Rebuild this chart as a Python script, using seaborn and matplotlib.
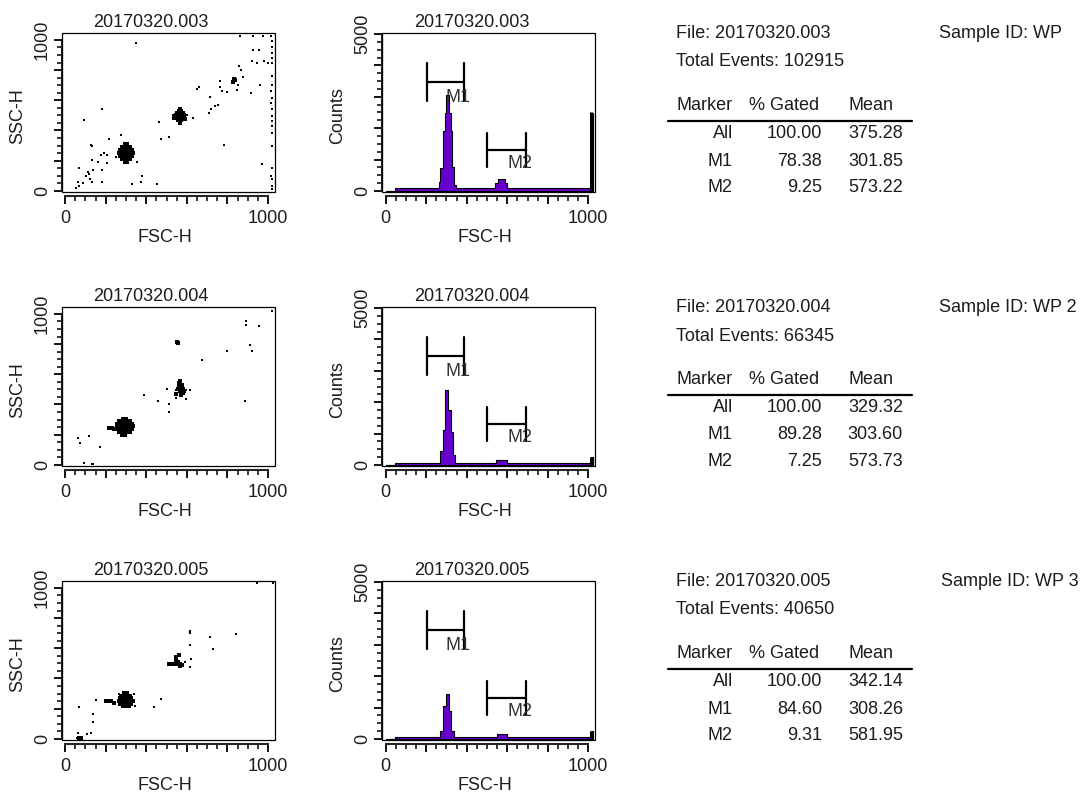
import matplotlib
matplotlib.use("Agg")
import matplotlib.pyplot as plt
from matplotlib.patches import Rectangle
from matplotlib.lines import Line2D
import pandas as pd
import seaborn as sns

# ---------------- data ----------------
FILES = ["20170320.003", "20170320.004", "20170320.005"]
SAMPLE_IDS = ["WP", "WP 2", "WP 3"]
TOTAL_EVENTS = [102915, 66345, 40650]
MARKER_NAMES = ["All", "M1", "M2"]
GATED_003 = [100.00, 78.38, 9.25]
MEAN_003 = [375.28, 301.85, 573.22]
GATED_004 = [100.00, 89.28, 7.25]
MEAN_004 = [329.32, 303.60, 573.73]
GATED_005 = [100.00, 84.60, 9.31]
MEAN_005 = [342.14, 308.26, 581.95]

M1_RANGE = [204, 386]
M2_RANGE = [499, 692]

# histogram (FSC-H channel bins, counts)
EDGES_003 = [0, 46, 262, 270, 282, 293, 300, 314, 320, 328, 337, 346, 540, 552, 588, 600, 1012, 1023]
COUNTS_003 = [0, 100, 300, 740, 1900, 2500, 3060, 2500, 1900, 750, 200, 100, 250, 380, 250, 100, 2500]
EDGES_004 = [0, 46, 268, 281, 292, 309, 320, 333, 342, 545, 600, 1015, 1023]
COUNTS_004 = [0, 80, 460, 1100, 2400, 1760, 1040, 330, 80, 160, 80, 250]
EDGES_005 = [0, 46, 270, 283, 296, 312, 323, 335, 548, 600, 1015, 1023]
COUNTS_005 = [0, 70, 250, 1060, 1440, 900, 250, 70, 150, 70, 250]

# scatter (FSC-H, SSC-H): dense populations and sparse events
CORE_003 = [(293, 194), (307, 194),
            (279, 212), (293, 212), (307, 212), (321, 212),
            (272, 232), (286, 232), (300, 232), (314, 232), (328, 232),
            (268, 252), (282, 252), (296, 252), (310, 252), (324, 252), (336, 252),
            (272, 272), (286, 272), (300, 272), (314, 272), (328, 272),
            (279, 292), (293, 292), (307, 292), (321, 292),
            (293, 310), (307, 310),
            (555, 470), (570, 470), (548, 485), (562, 485), (576, 485),
            (545, 500), (560, 500), (574, 500), (588, 500), (552, 515), (566, 515),
            (580, 515), (560, 530), (572, 530), (538, 480), (592, 478), (565, 545),
            (568, 452), (826, 724), (836, 736), (830, 742)]
DOTS_003 = [(348, 982), (184, 539), (94, 469), (217, 342), (278, 370), (127, 305),
            (135, 298), (176, 237), (209, 237), (193, 250), (250, 221), (70, 151),
            (135, 204), (160, 193), (206, 182), (184, 138), (114, 127), (140, 140),
            (103, 101), (124, 79), (119, 112), (135, 61), (62, 57), (86, 50),
            (70, 35), (54, 17), (184, 57), (332, 46), (372, 57), (454, 46),
            (381, 101), (356, 193), (310, 206), (474, 346), (511, 359), (462, 456),
            (631, 485), (650, 675), (660, 688), (712, 623), (707, 517), (720, 539),
            (740, 561), (752, 572), (761, 730), (765, 688), (773, 660), (800, 656),
            (846, 671), (851, 704), (859, 829), (866, 802), (876, 754), (915, 649),
            (923, 862), (928, 934), (957, 934), (944, 846), (961, 704), (781, 305),
            (969, 177), (980, 862), (998, 846), (1018, 846), (1013, 660), (1018, 616),
            (1013, 583), (1018, 495), (1018, 463), (1018, 386), (1013, 101), (1018, 79),
            (1018, 35), (863, 1026), (928, 1026), (977, 1026), (1013, 1026), (1018, 956),
            (1018, 912), (1020, 990), (1020, 880), (1020, 760), (1020, 700), (1020, 540),
            (1020, 430), (1020, 300), (1020, 150), (1020, 10), (530, 505), (600, 500)]

CORE_004 = [(280, 200), (296, 200),
            (266, 218), (280, 218), (294, 218), (308, 218), (322, 218),
            (258, 236), (272, 236), (286, 236), (300, 236), (314, 236), (328, 236),
            (254, 254), (268, 254), (282, 254), (296, 254), (310, 254), (324, 254), (336, 254),
            (258, 272), (272, 272), (286, 272), (300, 272), (314, 272), (328, 272),
            (266, 290), (280, 290), (294, 290), (308, 290), (322, 290),
            (285, 306), (300, 306), (215, 246), (230, 246), (243, 240),
            (560, 520), (572, 520), (556, 505), (568, 505), (580, 505), (564, 490),
            (576, 490), (560, 540), (566, 553), (548, 470), (572, 460), (575, 530),
            (551, 817), (554, 808)]
DOTS_004 = [(387, 465), (457, 424), (503, 505), (512, 406), (510, 351), (548, 443),
            (614, 494), (597, 439), (545, 495), (590, 480), (598, 495), (585, 470),
            (676, 696), (800, 753), (885, 424), (890, 955), (890, 929), (954, 918),
            (913, 795), (923, 753), (66, 175), (76, 142), (117, 191), (170, 121),
            (211, 246), (219, 237), (95, 11), (133, 2), (140, 2), (1020, 1020)]

CORE_005 = [(285, 215), (300, 215), (315, 215),
            (270, 232), (284, 232), (298, 232), (312, 232), (326, 232),
            (266, 250), (280, 250), (294, 250), (308, 250), (322, 250), (336, 250),
            (270, 268), (284, 268), (298, 268), (312, 268), (326, 268),
            (278, 286), (292, 286), (306, 286), (320, 286), (292, 302), (306, 302),
            (200, 250), (214, 250), (228, 250), (240, 235),
            (510, 497), (524, 497), (538, 497), (552, 497), (566, 497), (556, 512),
            (544, 525), (548, 540), (560, 555), (566, 480), (578, 490), (70, 4), (80, 6)]
DOTS_005 = [(614, 700), (614, 712), (614, 622), (622, 530), (614, 474), (716, 678),
            (729, 596), (841, 695), (943, 1033), (1025, 1033), (474, 265), (436, 210),
            (340, 300), (345, 215), (153, 260), (68, 210), (137, 166), (137, 110),
            (128, 40), (107, 33), (66, 37), (68, 2), (57, 2), (84, 11), (590, 510),
            (265, 300)]

HIST_EDGES = [EDGES_003, EDGES_004, EDGES_005]
HIST_COUNTS = [COUNTS_003, COUNTS_004, COUNTS_005]
CORES = [CORE_003, CORE_004, CORE_005]
DOTS = [DOTS_003, DOTS_004, DOTS_005]
GATED = [GATED_003, GATED_004, GATED_005]
MEANS = [MEAN_003, MEAN_004, MEAN_005]

# ---------------- style ----------------
sns.set_style("ticks")
plt.rcParams["font.family"] = ["Liberation Sans", "DejaVu Sans"]
TXT = "#1c1c1c"
PURPLE = "#6600cc"
FS = 13

W, H = 1092, 796
fig = plt.figure(figsize=(W / 100, H / 100), dpi=100, facecolor="white")


def rect(left, top, right, bottom):
    return [left / W, 1 - bottom / H, (right - left) / W, (bottom - top) / H]


def style_axes(ax, xlim, ylim, ytop, ymajor, yminor, ylabel):
    ax.set_xlim(*xlim)
    ax.set_ylim(*ylim)
    for s in ["top", "right"]:
        ax.spines[s].set_visible(False)
    ax.spines["left"].set_bounds(0, ytop)
    ax.spines["left"].set_linewidth(1.5)
    ax.spines["bottom"].set_position(("outward", 3))
    ax.spines["bottom"].set_bounds(0, 1000)
    ax.spines["bottom"].set_linewidth(1.5)
    ax.add_patch(Rectangle((0, 0), 1, 1, transform=ax.transAxes, fill=False,
                           lw=0.9, ec="black", clip_on=False, zorder=5))
    xt = [0, 200, 400, 600, 800, 1000]
    ax.set_xticks(xt)
    ax.set_xticklabels(["0", "", "", "", "", "1000"])
    ax.set_xticks([v for v in range(0, 1001, 50) if v not in xt], minor=True)
    ax.set_yticks(ymajor)
    ax.set_yticklabels([str(ymajor[0])] + [""] * (len(ymajor) - 2) + [str(ymajor[-1])])
    ax.set_yticks([v for v in yminor if v not in ymajor], minor=True)
    ax.tick_params(which="major", length=6, width=1.3, direction="out",
                   labelsize=FS, colors="black", labelcolor=TXT)
    ax.tick_params(which="minor", length=3.5, width=1.3, direction="out")
    ax.tick_params(axis="x", which="major", pad=4)
    ax.tick_params(axis="y", which="major", pad=2)
    for lab in ax.get_yticklabels():
        lab.set_rotation(90)
        lab.set_va("center")
    ax.set_xlabel("FSC-H", fontsize=FS, color=TXT)
    ax.set_ylabel(ylabel, fontsize=FS, color=TXT)
    ax.xaxis.set_label_coords(0.485, -0.235)
    ax.yaxis.set_label_coords(-0.17, 0.48)
    ax.set_facecolor("white")
    ax.grid(False)


ROW_TOPS = [33, 307, 581]
AX_H = 159

for i, top in enumerate(ROW_TOPS):
    bottom = top + AX_H
    # --- dot plot ---
    axs = fig.add_axes(rect(62, top, 275, bottom))
    core = pd.DataFrame(CORES[i], columns=["FSC-H", "SSC-H"])
    dots = pd.DataFrame(DOTS[i], columns=["FSC-H", "SSC-H"])
    sns.scatterplot(data=core, x="FSC-H", y="SSC-H", ax=axs, marker="s", s=11,
                    color="black", linewidth=0, legend=False, zorder=3)
    sns.scatterplot(data=dots, x="FSC-H", y="SSC-H", ax=axs, marker="s", s=3.5,
                    color="black", linewidth=0, legend=False, zorder=3)
    style_axes(axs, (-15, 1034), (-8, 1046), 1000,
               [0, 200, 400, 600, 800, 1000], list(range(0, 1001, 50)), "SSC-H")
    axs.set_title(FILES[i], fontsize=FS, color=TXT, x=0.415, pad=4)

    # --- histogram ---
    axh = fig.add_axes(rect(382, top, 595, bottom))
    edges = HIST_EDGES[i]
    centers = [(a + b) / 2 for a, b in zip(edges[:-1], edges[1:])]
    hdf = pd.DataFrame({"FSC-H": centers, "w": HIST_COUNTS[i]})
    sns.histplot(data=hdf, x="FSC-H", weights="w", bins=edges, element="step",
                 fill=True, color=PURPLE, edgecolor="black", linewidth=0.8,
                 alpha=1, ax=axh, zorder=2)
    # saturated last channel drawn as a heavy black edge, like the original
    axh.plot([edges[-2], edges[-2]], [0, HIST_COUNTS[i][-1]], color="black",
             lw=2.2, zorder=3, solid_capstyle="butt")
    # gate markers
    for rng, yc, half in [(M1_RANGE, 3480, 600), (M2_RANGE, 1300, 550)]:
        axh.plot(rng, [yc, yc], color="black", lw=1.6, zorder=4)
        for xv in rng:
            axh.plot([xv, xv], [yc - half, yc + half], color="black", lw=1.6, zorder=4)
    axh.text(M1_RANGE[1] - 30, 2970, "M1", fontsize=FS, color="#333333",
             ha="center", va="center", zorder=4)
    axh.text(M2_RANGE[1] - 30, 870, "M2", fontsize=FS, color="#333333",
             ha="center", va="center", zorder=4)
    style_axes(axh, (-18, 1033), (-30, 5030), 5000,
               [0, 1000, 2000, 3000, 4000, 5000], list(range(0, 5001, 250)), "Counts")
    axh.set_title(FILES[i], fontsize=FS, color=TXT, x=0.42, pad=4)

    # --- statistics text ---
    def ftext(x, y, s, ha="left"):
        fig.text(x / W, 1 - y / H, s, ha=ha, va="center", fontsize=FS, color=TXT)

    ftext(676, top + 1, f"File: {FILES[i]}")
    ftext(676, top + 29, f"Total Events: {TOTAL_EVENTS[i]}")
    ftext(939 + (2 if i == 2 else 0), top + 1, f"Sample ID: {SAMPLE_IDS[i]}")
    ftext(676, top + 73, "Marker")
    ftext(749, top + 73, "% Gated")
    ftext(848, top + 73, "Mean")
    ly_line = 1 - (top + 88) / H
    fig.add_artist(Line2D([668 / W, 912 / W], [ly_line, ly_line], lw=1.6, color="black"))
    for r in range(3):
        yy = top + 101 + 27 * r
        ftext(733, yy, MARKER_NAMES[r], ha="right")
        ftext(822, yy, f"{GATED[i][r]:.2f}", ha="right")
        ftext(903, yy, f"{MEANS[i][r]:.2f}", ha="right")

fig.savefig("out.png", dpi=100, facecolor="white")
